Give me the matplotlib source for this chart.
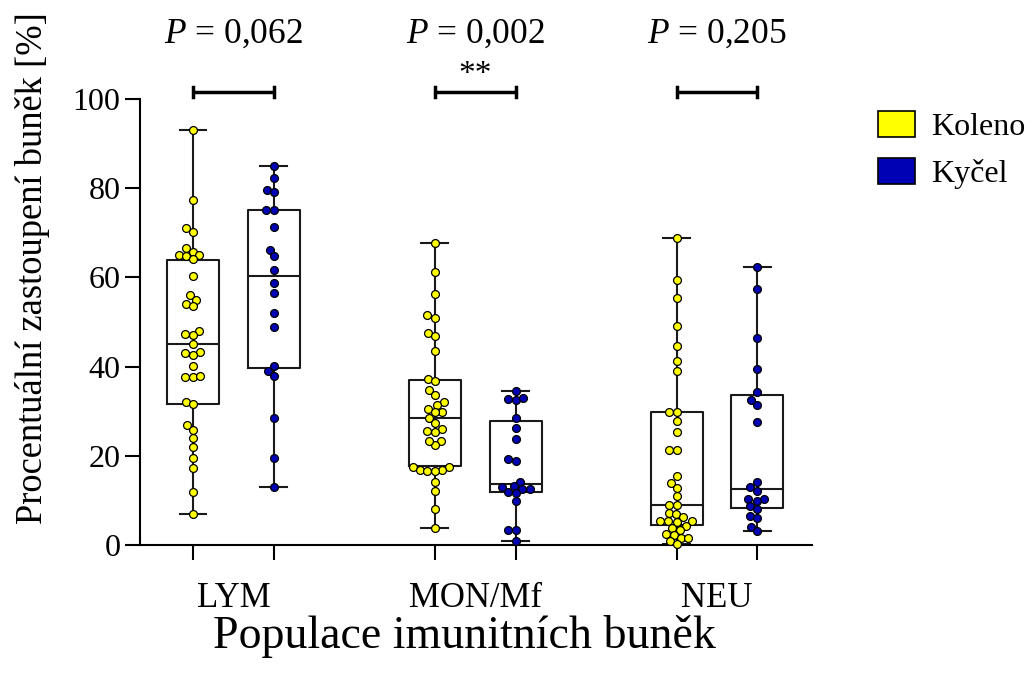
import numpy as np
import matplotlib
matplotlib.use("Agg")
import matplotlib.pyplot as plt
from matplotlib.patches import Patch

plt.rcParams.update({
    'font.family': ['Liberation Serif', 'DejaVu Serif'],
    'mathtext.fontset': 'custom',
    'mathtext.rm': 'Liberation Serif',
    'mathtext.it': 'Liberation Serif:italic',
})

# data (percent)
categories = ["LYM", "MON/Mf", "NEU"]
series_names = ["Koleno", "Kyčel"]
p_labels = ["0,062", "0,002", "0,205"]
stars = ["", "**", ""]

lym_koleno = [93.1, 77.4, 71.0, 70.2, 66.6, 65.8, 65.0, 64.9, 65.0, 64.1, 60.2, 56.1,
              55.0, 54.1, 53.5, 48.0, 47.3, 47.1, 45.0, 43.3, 43.1, 42.7, 40.1, 37.7,
              37.6, 38.0, 32.1, 31.5, 26.9, 25.7, 23.9, 22.0, 19.4, 17.2, 11.9, 6.9]
lym_kycel = [85.0, 82.2, 79.7, 79.1, 75.2, 75.1, 71.4, 66.1, 64.7, 61.6, 58.8, 56.4,
             52.1, 48.8, 40.2, 39.1, 38.0, 28.5, 19.6, 13.1]
mon_koleno = [67.7, 61.1, 56.2, 51.5, 51.0, 47.6, 46.8, 43.6, 37.3, 36.7, 34.7, 33.6,
              32.1, 31.4, 30.6, 29.8, 29.8, 28.5, 27.4, 25.9, 25.4, 25.6, 23.4, 22.4,
              23.4, 17.5, 17.5, 16.8, 16.8, 16.5, 16.6, 14.2, 12.2, 8.1, 3.7]
mon_kycel = [34.5, 32.7, 32.4, 32.9, 28.4, 26.2, 23.7, 18.9, 19.2, 14.2, 13.2, 13.0,
             12.6, 12.5, 11.6, 11.9, 9.9, 3.4, 3.4, 0.8]
neu_koleno = [68.9, 59.5, 55.3, 49.0, 44.6, 41.3, 39.1, 29.9, 29.9, 27.8, 25.3, 21.4,
              21.4, 15.4, 13.9, 12.8, 11.0, 8.9, 8.9, 7.1, 6.9, 6.2, 5.4, 5.3, 5.4, 5.1,
              4.2, 3.9, 3.4, 2.4, 2.3, 1.6, 1.6, 0.9, 0.2]
neu_kycel = [62.3, 57.4, 46.4, 39.4, 34.2, 31.4, 32.4, 27.5, 14.1, 12.2, 12.9, 10.4,
             10.4, 9.8, 8.1, 8.8, 6.6, 6.0, 4.0, 3.1]

# box statistics as drawn in the picture
koleno_q1 = [31.7, 17.7, 4.4]
koleno_med = [45.0, 28.5, 8.9]
koleno_q3 = [63.8, 37.0, 29.8]
kycel_q1 = [39.6, 11.9, 8.4]
kycel_med = [60.3, 13.6, 12.6]
kycel_q3 = [75.1, 27.7, 33.6]

koleno = [lym_koleno, mon_koleno, neu_koleno]
kycel = [lym_kycel, mon_kycel, neu_kycel]

yellow = "#FFFF00"
blue = "#0000B4"
line_col = "#1a1a1a"


def swarm_offsets(values, dia, px_x, px_y):
    # simple beeswarm: place points from low to high, nearest free spot to center
    values = np.asarray(values)
    steps = np.arange(0, 60, 0.5)
    cands = [0.0]
    for s in steps[1:]:
        cands += [-s, s]
    placed = []
    offs = np.zeros(len(values))
    for i in np.argsort(values):
        y = values[i] * px_y
        for c in cands:
            if all((c - px) ** 2 + (y - py) ** 2 >= dia ** 2 for px, py in placed):
                break
        placed.append((c, y))
        offs[i] = c / px_x
    return offs


fig = plt.figure(figsize=(10.31, 6.77), dpi=100)
ax = fig.add_axes([0.1358, 0.195, 0.6518, 0.6588])
xlim = (0.614, 3.393)
ax.set_xlim(*xlim)
ax.set_ylim(0, 100)

px_x = 0.6518 * 1031 / (xlim[1] - xlim[0])
px_y = 0.6588 * 677 / 100

centers = np.arange(1, len(categories) + 1)
shift = 0.167
groups = [(koleno, koleno_q1, koleno_med, koleno_q3, yellow, -shift),
          (kycel, kycel_q1, kycel_med, kycel_q3, blue, shift)]

for data, q1, med, q3, col, dx in groups:
    stats = []
    for k in range(len(categories)):
        stats.append(dict(med=med[k], q1=q1[k], q3=q3[k],
                          whislo=min(data[k]), whishi=max(data[k]), fliers=[]))
    lp = dict(color=line_col, linewidth=1.5)
    ax.bxp(stats, positions=centers + dx, widths=0.215, showfliers=False,
           boxprops=lp, whiskerprops=lp, capprops=lp, medianprops=lp,
           capwidths=0.11, manage_ticks=False)
    for k in range(len(categories)):
        offs = swarm_offsets(data[k], 7.4, px_x, px_y)
        ax.scatter(centers[k] + dx + offs, data[k], s=32, color=col,
                   edgecolor="black", linewidth=0.9, zorder=5, clip_on=False)

# axes styling
for side in ["top", "right"]:
    ax.spines[side].set_visible(False)
ax.spines["left"].set_linewidth(1.5)
ax.spines["bottom"].set_linewidth(1.5)
ax.set_yticks([0, 20, 40, 60, 80, 100])
ax.tick_params(axis="y", labelsize=23, length=11, width=1.5, pad=3)
ax.set_xticks(centers)
ax.set_xticklabels(categories)
ax.tick_params(axis="x", which="major", labelsize=25, length=0, pad=27)
ax.set_xticks(np.concatenate([centers - shift, centers + shift]), minor=True)
ax.tick_params(axis="x", which="minor", length=11, width=1.5)

fig.text(464 / 1031, 1 - 636 / 677, "Populace imunitních buněk", fontsize=33,
         ha="center", va="center")
fig.text(33 / 1031, 1 - 268 / 677, "Procentuální zastoupení buněk [%]", fontsize=26.3,
         ha="center", va="center", rotation=90)

# significance brackets
for k in range(len(categories)):
    x0, x1 = centers[k] - shift, centers[k] + shift
    ax.plot([x0, x1], [101.5, 101.5], color="black", lw=2.5, clip_on=False,
            solid_capstyle="butt")
    for xe in (x0, x1):
        ax.plot([xe, xe], [100.4, 102.6], color="black", lw=2.5, clip_on=False)
    ax.text(centers[k], 114.5, "$P$ = " + p_labels[k], fontsize=25.5,
            ha="center", va="center")
    if stars[k]:
        ax.text(centers[k], 105.5, stars[k], fontsize=24, ha="center", va="center")

handles = [Patch(facecolor=yellow, edgecolor="black", linewidth=1.2),
           Patch(facecolor=blue, edgecolor="black", linewidth=1.2)]
fig.legend(handles, series_names, loc="upper left",
           bbox_to_anchor=(856 / 1031, 1 - 89 / 677), frameon=False, fontsize=23,
           handlelength=1.15, handleheight=0.85, handletextpad=0.5,
           labelspacing=0.5, borderpad=0.2)

fig.savefig("out.png", dpi=100)
